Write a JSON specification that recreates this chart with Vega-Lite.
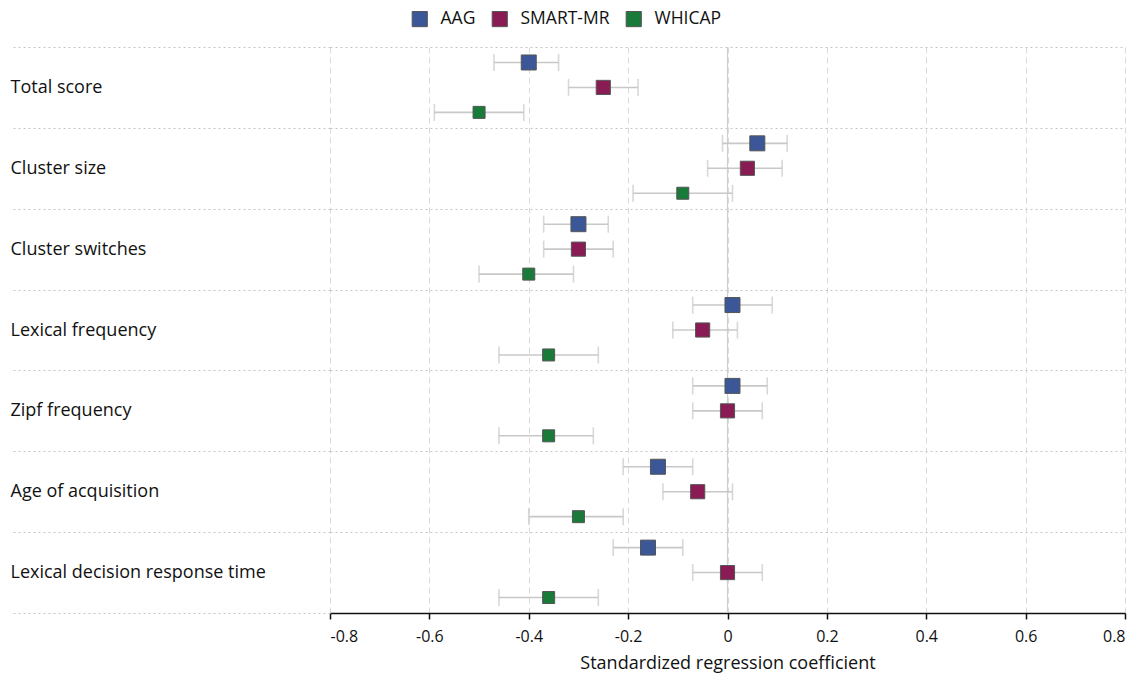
{
  "$schema": "https://vega.github.io/schema/vega-lite/v6.json",
  "width": 795,
  "height": 566,
  "autosize": {"type": "none"},
  "padding": {"left": 330, "top": 47, "right": 13, "bottom": 60},
  "background": "white",
  "config": {
    "font": "Open Sans",
    "view": {"stroke": null},
    "axisY": {
      "grid": true, "gridDash": [2, 3], "gridColor": "#c4c4c4", "gridWidth": 1,
      "tickBand": "extent", "tickSize": 320, "tickDash": [2, 3], "tickColor": "#c4c4c4", "tickWidth": 1,
      "domain": false, "labelPadding": 0, "labelAlign": "left", "labelFontSize": 18, "labelLimit": 330,
      "labelColor": "#111", "title": null
    },
    "axisX": {
      "grid": true, "gridDash": [6, 4], "gridColor": "#dadada", "gridWidth": 1,
      "domainColor": "#111", "domainWidth": 1.5, "tickColor": "#111", "tickSize": 6, "tickWidth": 1.5,
      "labelFontSize": 16, "labelColor": "#111", "labelPadding": 9,
      "titleFontSize": 18, "titleFontWeight": "normal", "titleColor": "#111", "titlePadding": 10
    },
    "legend": {
      "orient": "none", "legendX": 81, "legendY": -37, "direction": "horizontal", "symbolType": "square", "symbolSize": 230,
      "symbolStrokeColor": "#555", "symbolStrokeWidth": 1, "symbolOpacity": 1,
      "labelFontSize": 17.5, "labelColor": "#111", "columnPadding": 14, "labelOffset": 12,
      "title": null
    }
  },
  "data": {"values": [
    {"measure": "Total score", "cohort": "AAG", "beta": -0.40, "lo": -0.47, "hi": -0.34},
    {"measure": "Total score", "cohort": "SMART-MR", "beta": -0.25, "lo": -0.32, "hi": -0.18},
    {"measure": "Total score", "cohort": "WHICAP", "beta": -0.50, "lo": -0.59, "hi": -0.41},
    {"measure": "Cluster size", "cohort": "AAG", "beta": 0.06, "lo": -0.01, "hi": 0.12},
    {"measure": "Cluster size", "cohort": "SMART-MR", "beta": 0.04, "lo": -0.04, "hi": 0.11},
    {"measure": "Cluster size", "cohort": "WHICAP", "beta": -0.09, "lo": -0.19, "hi": 0.01},
    {"measure": "Cluster switches", "cohort": "AAG", "beta": -0.30, "lo": -0.37, "hi": -0.24},
    {"measure": "Cluster switches", "cohort": "SMART-MR", "beta": -0.30, "lo": -0.37, "hi": -0.23},
    {"measure": "Cluster switches", "cohort": "WHICAP", "beta": -0.40, "lo": -0.50, "hi": -0.31},
    {"measure": "Lexical frequency", "cohort": "AAG", "beta": 0.01, "lo": -0.07, "hi": 0.09},
    {"measure": "Lexical frequency", "cohort": "SMART-MR", "beta": -0.05, "lo": -0.11, "hi": 0.02},
    {"measure": "Lexical frequency", "cohort": "WHICAP", "beta": -0.36, "lo": -0.46, "hi": -0.26},
    {"measure": "Zipf frequency", "cohort": "AAG", "beta": 0.01, "lo": -0.07, "hi": 0.08},
    {"measure": "Zipf frequency", "cohort": "SMART-MR", "beta": 0.00, "lo": -0.07, "hi": 0.07},
    {"measure": "Zipf frequency", "cohort": "WHICAP", "beta": -0.36, "lo": -0.46, "hi": -0.27},
    {"measure": "Age of acquisition", "cohort": "AAG", "beta": -0.14, "lo": -0.21, "hi": -0.07},
    {"measure": "Age of acquisition", "cohort": "SMART-MR", "beta": -0.06, "lo": -0.13, "hi": 0.01},
    {"measure": "Age of acquisition", "cohort": "WHICAP", "beta": -0.30, "lo": -0.40, "hi": -0.21},
    {"measure": "Lexical decision response time", "cohort": "AAG", "beta": -0.16, "lo": -0.23, "hi": -0.09},
    {"measure": "Lexical decision response time", "cohort": "SMART-MR", "beta": 0.00, "lo": -0.07, "hi": 0.07},
    {"measure": "Lexical decision response time", "cohort": "WHICAP", "beta": -0.36, "lo": -0.46, "hi": -0.26}
  ]},
  "encoding": {
    "y": {
      "field": "measure", "type": "nominal",
      "sort": ["Total score", "Cluster size", "Cluster switches", "Lexical frequency", "Zipf frequency", "Age of acquisition", "Lexical decision response time"],
      "scale": {"paddingInner": 0, "paddingOuter": 0}
    },
    "yOffset": {
      "field": "cohort", "type": "nominal", "sort": ["AAG", "SMART-MR", "WHICAP"],
      "scale": {"paddingInner": 0, "paddingOuter": 0.12}
    }
  },
  "layer": [
    {
      "data": {"values": [{"z": 0}]},
      "mark": {"type": "rule", "color": "#cfcfcf", "strokeWidth": 1.2},
      "encoding": {
        "x": {"field": "z", "type": "quantitative", "title": "Standardized regression coefficient"},
        "y": null,
        "yOffset": null
      }
    },
    {
      "mark": {"type": "rule", "color": "#c8c8c8", "strokeWidth": 1.6},
      "encoding": {
        "x": {"field": "lo", "type": "quantitative", "title": "Standardized regression coefficient",
              "scale": {"domain": [-0.8, 0.8], "nice": false, "zero": false},
              "axis": {"values": [-0.8, -0.6, -0.4, -0.2, 0, 0.2, 0.4, 0.6, 0.8], "format": "~g",
                       "labelExpr": "replace(datum.label, '\u2212', '-')"}},
        "x2": {"field": "hi"}
      }
    },
    {
      "mark": {"type": "tick", "orient": "vertical", "color": "#c8c8c8", "thickness": 1.6, "size": 17},
      "encoding": {
        "x": {"field": "lo", "type": "quantitative", "title": "Standardized regression coefficient"}
      }
    },
    {
      "mark": {"type": "tick", "orient": "vertical", "color": "#c8c8c8", "thickness": 1.6, "size": 17},
      "encoding": {
        "x": {"field": "hi", "type": "quantitative", "title": "Standardized regression coefficient"}
      }
    },
    {
      "transform": [{"filter": "datum.cohort === 'AAG'"}],
      "mark": {"type": "point", "shape": "square", "filled": true, "opacity": 1, "stroke": "#555", "strokeWidth": 1, "size": 225},
      "encoding": {
        "x": {"field": "beta", "type": "quantitative", "title": "Standardized regression coefficient"},
        "color": {
          "field": "cohort", "type": "nominal",
          "scale": {"domain": ["AAG", "SMART-MR", "WHICAP"], "range": ["#3b5797", "#8a1c55", "#1a7a3a"]}
        }
      }
    },
    {
      "transform": [{"filter": "datum.cohort === 'SMART-MR'"}],
      "mark": {"type": "point", "shape": "square", "filled": true, "opacity": 1, "stroke": "#555", "strokeWidth": 1, "size": 200},
      "encoding": {
        "x": {"field": "beta", "type": "quantitative", "title": "Standardized regression coefficient"},
        "color": {"field": "cohort", "type": "nominal"}
      }
    },
    {
      "transform": [{"filter": "datum.cohort === 'WHICAP'"}],
      "mark": {"type": "point", "shape": "square", "filled": true, "opacity": 1, "stroke": "#555", "strokeWidth": 1, "size": 144},
      "encoding": {
        "x": {"field": "beta", "type": "quantitative", "title": "Standardized regression coefficient"},
        "color": {"field": "cohort", "type": "nominal"}
      }
    }
  ]
}
